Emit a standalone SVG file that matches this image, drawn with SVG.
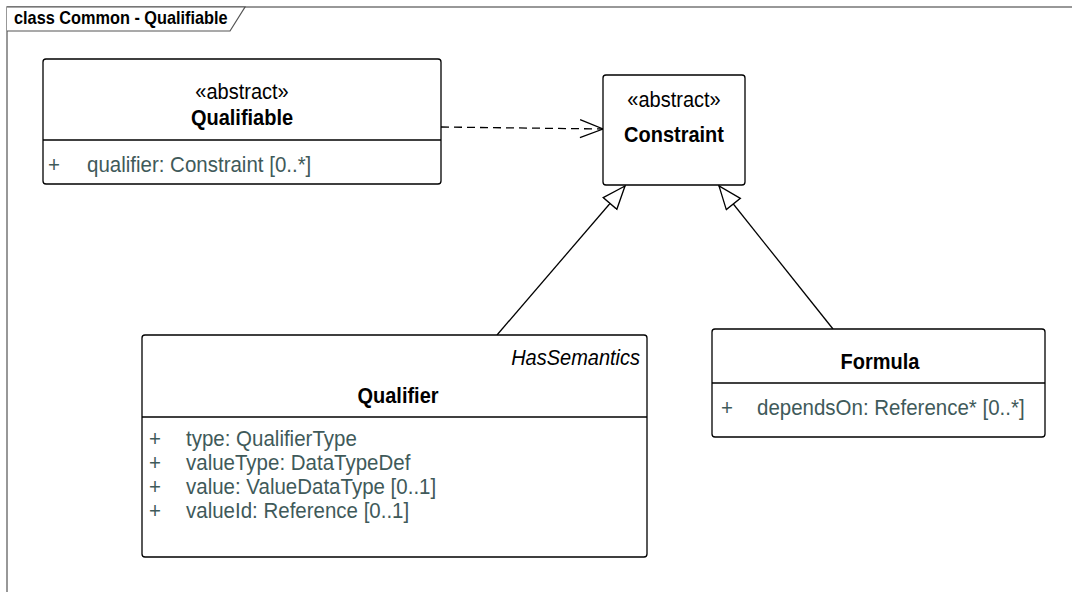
<svg xmlns="http://www.w3.org/2000/svg" width="1072" height="592" viewBox="0 0 1072 592">
<style>
.box{fill:#fff;stroke:#000;stroke-width:1.3}
.div{stroke:#000;stroke-width:1.3}
.t{font-family:"Liberation Sans",Arial,sans-serif;font-size:20px;fill:#000}
.b{font-weight:bold}
.a{font-family:"Liberation Sans",Arial,sans-serif;font-size:20.5px;fill:#3f5a5a}
.i{font-style:italic}
.c{text-anchor:middle}
.ln{fill:none;stroke:#000;stroke-width:1.3}
</style>
<defs>
<marker id="gen" markerUnits="userSpaceOnUse" markerWidth="30" markerHeight="24" refX="24" refY="10" orient="auto">
<path d="M1,1 L24,10 L1,19 Z" fill="#fff" stroke="#000" stroke-width="1.3"/>
</marker>
<marker id="open" markerUnits="userSpaceOnUse" markerWidth="30" markerHeight="24" refX="24" refY="10" orient="auto">
<path d="M1,1 L24,10 L1,19" fill="none" stroke="#000" stroke-width="1.3"/>
</marker>
</defs>
<g id="frame">
<rect x="7" y="7" width="1100" height="620" fill="none" stroke="#777" stroke-width="1.5"/>
<path d="M7,7 L245,7 L230,31 L7,31" fill="#fff" stroke="#555" stroke-width="1.2"/>
<text transform="translate(14,24) scale(1,1.1)" class="t b" style="font-size:16.3px">class Common - Qualifiable</text>
</g>
<g id="connectors">
<line x1="441" y1="127" x2="603" y2="129" class="ln" stroke-dasharray="8,5" marker-end="url(#open)"/>
<line x1="497" y1="335" x2="625" y2="186" class="ln" marker-end="url(#gen)"/>
<line x1="833" y1="329" x2="719" y2="186" class="ln" marker-end="url(#gen)"/>
</g>
<g id="qualifiable">
<rect x="43" y="59" width="398" height="125" rx="3" class="box"/>
<line x1="43" y1="140" x2="441" y2="140" class="div"/>
<text transform="translate(242,99) scale(1,1.12)" class="t c">«abstract»</text>
<text transform="translate(242,125) scale(1,1.12)" class="t b c">Qualifiable</text>
<text transform="translate(54,172) scale(1,1.12)" class="a c">+</text>
<text transform="translate(87,172) scale(1,1.12)" class="a">qualifier: Constraint [0..*]</text>
</g>
<g id="constraint">
<rect x="603" y="75" width="142" height="110" rx="3" class="box"/>
<text transform="translate(674,107) scale(1,1.12)" class="t c">«abstract»</text>
<text transform="translate(674,142) scale(1,1.12)" class="t b c">Constraint</text>
</g>
<g id="qualifier">
<rect x="142" y="335" width="505" height="222" rx="3" class="box"/>
<line x1="142" y1="417" x2="647" y2="417" class="div"/>
<text transform="translate(640,365) scale(1,1.12)" class="t i" text-anchor="end">HasSemantics</text>
<text transform="translate(398,403) scale(1,1.12)" class="t b c">Qualifier</text>
<text transform="translate(155,446) scale(1,1.12)" class="a c">+</text>
<text transform="translate(186,446) scale(1,1.12)" class="a">type: QualifierType</text>
<text transform="translate(155,470) scale(1,1.12)" class="a c">+</text>
<text transform="translate(186,470) scale(1,1.12)" class="a">valueType: DataTypeDef</text>
<text transform="translate(155,494) scale(1,1.12)" class="a c">+</text>
<text transform="translate(186,494) scale(1,1.12)" class="a">value: ValueDataType [0..1]</text>
<text transform="translate(155,518) scale(1,1.12)" class="a c">+</text>
<text transform="translate(186,518) scale(1,1.12)" class="a">valueId: Reference [0..1]</text>
</g>
<g id="formula">
<rect x="712" y="329" width="333" height="108" rx="3" class="box"/>
<line x1="712" y1="383" x2="1045" y2="383" class="div"/>
<text transform="translate(880,369) scale(1,1.12)" class="t b c">Formula</text>
<text transform="translate(727,415) scale(1,1.12)" class="a c">+</text>
<text transform="translate(757,415) scale(1,1.12)" class="a">dependsOn: Reference* [0..*]</text>
</g>
</svg>
